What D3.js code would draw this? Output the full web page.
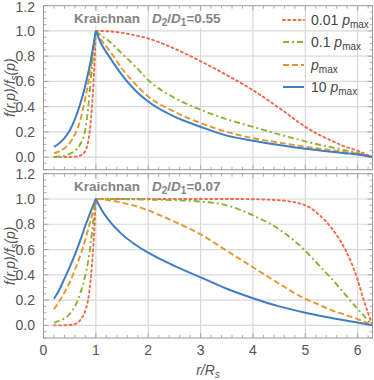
<!DOCTYPE html>
<html>
<head>
<meta charset="utf-8">
<script src="https://cdn.jsdelivr.net/npm/d3@7"></script>
<style>
  body { margin: 0; background: #fff; }
  svg { display: block; font-family: "Liberation Sans", Arial, sans-serif; }
</style>
</head>
<body>
<script>
// sample radii (r / R_s) inside and outside the shock
var rIn = [0.2, 0.3, 0.4, 0.5, 0.6, 0.7, 0.8, 0.85, 0.9, 0.95, 1.0];
var rOut = [1.0, 1.1, 1.25, 1.5, 1.75, 2, 2.5, 3, 3.5, 4, 4.5, 5, 5.25, 5.5, 5.75, 6, 6.1, 2 * Math.PI];

// top panel, D2/D1 = 0.55
var topIn001 = [0, 0, 0, 0.001, 0.003, 0.012, 0.05, 0.12, 0.27, 0.55, 1.0];
var topIn01  = [0.003, 0.006, 0.012, 0.025, 0.05, 0.10, 0.22, 0.38, 0.60, 0.81, 1.0];
var topIn1   = [0.03, 0.045, 0.07, 0.11, 0.18, 0.29, 0.47, 0.58, 0.70, 0.84, 1.0];
var topIn10  = [0.08, 0.11, 0.15, 0.21, 0.30, 0.42, 0.57, 0.66, 0.76, 0.88, 1.0];
var topOut001 = [1, 0.999, 0.997, 0.985, 0.965, 0.94, 0.86, 0.76, 0.65, 0.53, 0.39, 0.24, 0.18, 0.13, 0.085, 0.05, 0.033, 0];
var topOut01  = [1, 0.965, 0.92, 0.82, 0.72, 0.61, 0.47, 0.375, 0.30, 0.24, 0.18, 0.125, 0.10, 0.077, 0.055, 0.033, 0.022, 0];
var topOut1   = [1, 0.93, 0.85, 0.70, 0.58, 0.48, 0.36, 0.27, 0.20, 0.15, 0.115, 0.082, 0.068, 0.055, 0.041, 0.028, 0.018, 0];
var topOut10  = [1, 0.90, 0.80, 0.65, 0.53, 0.44, 0.32, 0.24, 0.17, 0.13, 0.095, 0.066, 0.054, 0.042, 0.031, 0.02, 0.014, 0];

// bottom panel, D2/D1 = 0.07
var botIn001 = [0, 0, 0.001, 0.003, 0.01, 0.04, 0.12, 0.20, 0.36, 0.62, 1.0];
var botIn01  = [0.02, 0.035, 0.055, 0.09, 0.15, 0.25, 0.40, 0.50, 0.64, 0.82, 1.0];
var botIn1   = [0.127, 0.19, 0.26, 0.34, 0.44, 0.55, 0.68, 0.755, 0.83, 0.91, 1.0];
var botIn10  = [0.21, 0.28, 0.37, 0.46, 0.56, 0.67, 0.79, 0.845, 0.90, 0.95, 1.0];
var botOut001 = [1, 1, 1, 1, 1, 1, 1, 1, 1, 0.998, 0.99, 0.95, 0.88, 0.77, 0.61, 0.36, 0.22, 0];
var botOut01  = [1, 1, 1, 0.999, 0.997, 0.995, 0.99, 0.98, 0.95, 0.87, 0.76, 0.59, 0.48, 0.37, 0.25, 0.13, 0.085, 0];
var botOut1   = [1, 0.998, 0.99, 0.97, 0.945, 0.91, 0.82, 0.72, 0.59, 0.46, 0.33, 0.21, 0.165, 0.12, 0.085, 0.05, 0.034, 0];
var botOut10  = [1, 0.92, 0.83, 0.72, 0.64, 0.575, 0.47, 0.38, 0.29, 0.215, 0.15, 0.10, 0.078, 0.058, 0.04, 0.022, 0.015, 0];

var seriesNames = ['0.01', '0.1', '', '10'];
var seriesColors = ['#ee6a4a', '#8db231', '#e8952f', '#3f7ec3'];
var seriesDash = ['2,3.2', '6,3,2,3', '6,3', null];
var panelRatios = ['0.55', '0.07'];
var xTicks = [0, 1, 2, 3, 4, 5, 6];
var yTicks = [0, 0.2, 0.4, 0.6, 0.8, 1.0, 1.2];

var width = 374, height = 380;
var svg = d3.select('body').append('svg')
            .attr('width', width)
            .attr('height', height);

var x = d3.scaleLinear().domain([0, 2 * Math.PI]).range([43.5, 372.5]);

var panels = [
  { top: 5.7, bottom: 169.7, inner: [topIn001, topIn01, topIn1, topIn10], outer: [topOut001, topOut01, topOut1, topOut10] },
  { top: 173.7, bottom: 338, inner: [botIn001, botIn01, botIn1, botIn10], outer: [botOut001, botOut01, botOut1, botOut10] }
];

var frameColor = '#9a9a9a';
var gridColor = '#d8d8d8';
var labelColor = '#555';

panels.forEach(function(p, pi){
  var y = d3.scaleLinear().domain([-0.1, 1.2]).range([p.bottom, p.top]);
  var g = svg.append('g');

  // grid
  g.selectAll('.vgrid').data(d3.range(1, 7)).enter().append('line')
   .attr('x1', function(d){ return x(d); }).attr('x2', function(d){ return x(d); })
   .attr('y1', p.top).attr('y2', p.bottom)
   .attr('stroke', gridColor).attr('stroke-width', 1.2);
  g.selectAll('.hgrid').data(d3.range(0, 6).map(function(i){ return i * 0.2; })).enter().append('line')
   .attr('x1', x.range()[0]).attr('x2', x.range()[1])
   .attr('y1', function(d){ return y(d); }).attr('y2', function(d){ return y(d); })
   .attr('stroke', gridColor).attr('stroke-width', 1.2);

  // frame ticks
  var xMinor = d3.range(0, 32).map(function(i){ return i * 0.2; }).filter(function(d){ return d <= 2 * Math.PI; });
  var yMinor = d3.range(-2, 25).map(function(i){ return i * 0.05; });
  var ticks = g.append('g').attr('stroke', frameColor).attr('stroke-width', 0.8);
  xMinor.forEach(function(d){
    var major = Math.abs(d - Math.round(d)) < 1e-6;
    var len = major ? 5 : 3;
    ticks.append('line').attr('x1', x(d)).attr('x2', x(d)).attr('y1', p.bottom).attr('y2', p.bottom - len);
    ticks.append('line').attr('x1', x(d)).attr('x2', x(d)).attr('y1', p.top).attr('y2', p.top + len);
  });
  yMinor.forEach(function(d){
    var major = Math.abs(d * 5 - Math.round(d * 5)) < 1e-6;
    var len = major ? 5 : 3;
    ticks.append('line').attr('x1', x.range()[0]).attr('x2', x.range()[0] + len).attr('y1', y(d)).attr('y2', y(d));
    ticks.append('line').attr('x1', x.range()[1]).attr('x2', x.range()[1] - len).attr('y1', y(d)).attr('y2', y(d));
  });

  // y tick labels
  g.selectAll('.ylab').data(yTicks).enter().append('text')
   .attr('x', 35).attr('y', function(d){ return Math.max(y(d) + 5, 12); })
   .attr('text-anchor', 'end').attr('font-size', 14).attr('fill', labelColor)
   .text(function(d){ return d3.format('.1f')(d); });

  // clip
  var clipId = 'clip' + pi;
  svg.append('clipPath').attr('id', clipId).append('rect')
     .attr('x', x.range()[0]).attr('y', p.top).attr('width', x.range()[1] - x.range()[0]).attr('height', p.bottom - p.top);

  // title with white backing
  var title = g.append('text').attr('y', p.top + 17.3).attr('font-size', 13.5).attr('font-weight', 'bold').attr('fill', '#838383');
  title.append('tspan').attr('x', 74).text('Kraichnan');
  var t2 = g.append('text').attr('x', 152).attr('y', p.top + 17.3).attr('font-size', 13.5).attr('font-weight', 'bold').attr('fill', '#838383');
  t2.append('tspan').attr('font-style', 'italic').text('D');
  t2.append('tspan').attr('font-size', 10).attr('dy', 3).text('2');
  t2.append('tspan').attr('dy', -3).text('/');
  t2.append('tspan').attr('font-style', 'italic').text('D');
  t2.append('tspan').attr('font-size', 10).attr('dy', 3).text('1');
  t2.append('tspan').attr('dy', -3).text('=' + panelRatios[pi]);
  [title, t2].forEach(function(t){
    var bb = t.node().getBBox();
    g.insert('rect', function(){ return t.node(); })
     .attr('x', bb.x - 2).attr('y', bb.y).attr('width', bb.width + 4).attr('height', bb.height)
     .attr('fill', '#fff');
  });

  // curves
  var line = d3.line()
               .x(function(d){ return x(d[0]); })
               .y(function(d){ return y(d[1]); })
               .curve(d3.curveMonotoneX);
  var curves = g.append('g').attr('clip-path', 'url(#' + clipId + ')');
  [0, 1, 2, 3].forEach(function(si){
    var inner = rIn.map(function(r, i){ return [r, p.inner[si][i]]; });
    var outer = rOut.map(function(r, i){ return [r, p.outer[si][i]]; });
    [inner, outer].forEach(function(pts){
      curves.append('path')
            .attr('d', line(pts))
            .attr('fill', 'none')
            .attr('stroke', seriesColors[si])
            .attr('stroke-width', si === 3 ? 2 : 1.9)
            .attr('stroke-dasharray', seriesDash[si])
            .attr('stroke-linecap', si === 0 ? 'round' : 'butt');
    });
  });

  // frame
  g.append('rect')
   .attr('x', x.range()[0]).attr('y', p.top)
   .attr('width', x.range()[1] - x.range()[0]).attr('height', p.bottom - p.top)
   .attr('fill', 'none').attr('stroke', frameColor).attr('stroke-width', 1);

  // y label
  var yl = g.append('text')
            .attr('transform', 'translate(15,' + ((p.top + p.bottom) / 2) + ') rotate(-90)')
            .attr('text-anchor', 'middle').attr('font-size', 14).attr('font-style', 'italic').attr('fill', labelColor);
  yl.append('tspan').text('f(r,p)/f');
  yl.append('tspan').attr('font-size', 10).attr('dy', 3).text('s');
  yl.append('tspan').attr('dy', -3).text('(p)');

  if (pi === 1){
    g.selectAll('.xlab').data(xTicks).enter().append('text')
     .attr('x', function(d){ return x(d); }).attr('y', 355)
     .attr('text-anchor', 'middle').attr('font-size', 14).attr('fill', labelColor)
     .text(function(d){ return d; });
    var xl = g.append('text').attr('x', (x.range()[0] + x.range()[1]) / 2).attr('y', 375)
              .attr('text-anchor', 'middle').attr('font-size', 14).attr('font-style', 'italic').attr('fill', labelColor);
    xl.append('tspan').text('r/R');
    xl.append('tspan').attr('font-size', 10).attr('dy', 3).text('s');
  }
});

// legend
var legend = svg.append('g');
var rowY = [20, 42, 65, 87];
[0, 1, 2, 3].forEach(function(si){
  legend.append('line')
        .attr('x1', 283).attr('x2', 304)
        .attr('y1', rowY[si]).attr('y2', rowY[si])
        .attr('stroke', seriesColors[si])
        .attr('stroke-width', si === 3 ? 2 : 1.9)
        .attr('stroke-dasharray', seriesDash[si])
        .attr('stroke-linecap', si === 0 ? 'round' : 'butt');
  var t = legend.append('text').attr('x', 311).attr('y', rowY[si] + 5)
                .attr('font-size', 14).attr('fill', '#444');
  if (seriesNames[si]) t.append('tspan').text(seriesNames[si] + ' ');
  t.append('tspan').attr('font-style', 'italic').text('p');
  t.append('tspan').attr('font-size', 10).attr('dy', 3).text('max');
});
</script>
</body>
</html>
